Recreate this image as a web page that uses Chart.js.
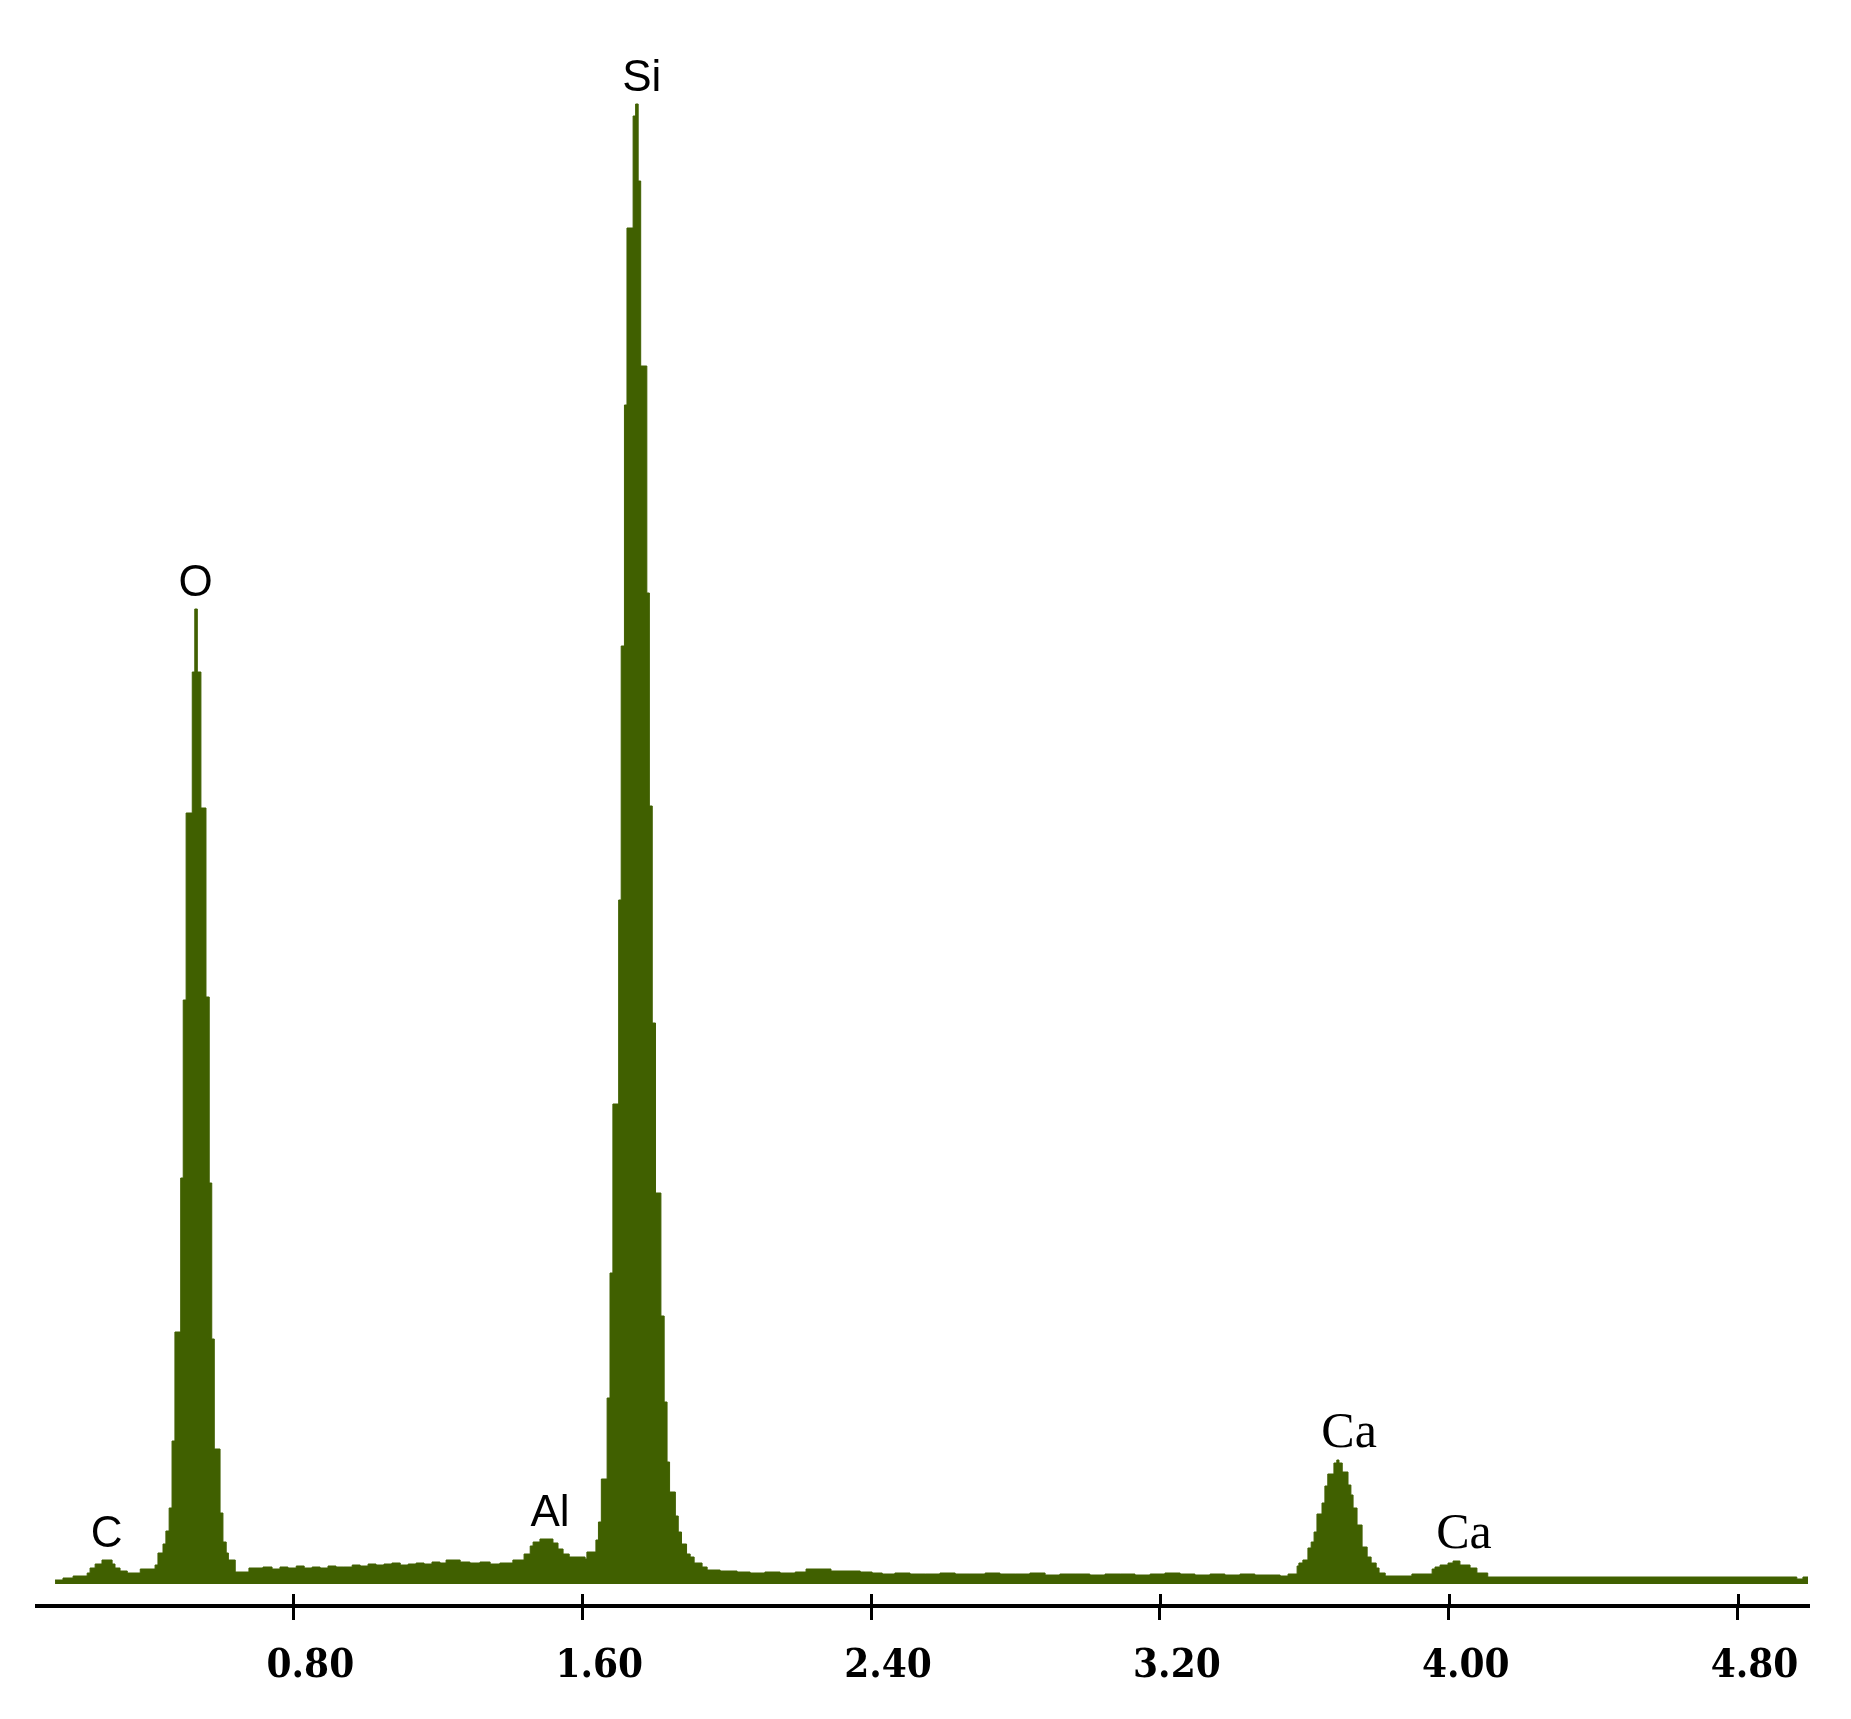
<!DOCTYPE html>
<html>
<head>
<meta charset="utf-8">
<script src="https://cdn.jsdelivr.net/npm/chart.js@4.4.0/dist/chart.umd.min.js"></script>
<style>
  body { margin: 0; background: #fff; }
  #wrap { width: 1851px; height: 1719px; }
</style>
</head>
<body>
<div id="wrap"><canvas id="spectrum" width="1851" height="1719"></canvas></div>
<script>
// spectrum channels (keV) and counts
var energy = [
  0.140, 0.162, 0.190, 0.229, 0.237, 0.251, 0.270, 0.298, 0.306, 0.320,
  0.340, 0.376, 0.417, 0.425, 0.439, 0.447, 0.456, 0.464, 0.472, 0.488,
  0.495, 0.503, 0.520, 0.527, 0.534, 0.544, 0.558, 0.567, 0.574, 0.581,
  0.597, 0.605, 0.614, 0.620, 0.639, 0.677, 0.716, 0.741, 0.763, 0.785,
  0.808, 0.830, 0.852, 0.874, 0.896, 0.918, 0.940, 0.963, 0.985, 1.007,
  1.029, 1.051, 1.073, 1.096, 1.118, 1.140, 1.162, 1.184, 1.206, 1.223,
  1.262, 1.289, 1.317, 1.345, 1.372, 1.408, 1.439, 1.456, 1.464, 1.483,
  1.519, 1.533, 1.547, 1.564, 1.608, 1.613, 1.638, 1.645, 1.653, 1.669,
  1.677, 1.685, 1.701, 1.708, 1.717, 1.724, 1.741, 1.748, 1.755, 1.762,
  1.779, 1.786, 1.794, 1.803, 1.818, 1.827, 1.835, 1.842, 1.858, 1.866,
  1.875, 1.889, 1.899, 1.910, 1.932, 1.946, 1.982, 2.029, 2.065, 2.106,
  2.148, 2.190, 2.220, 2.289, 2.370, 2.403, 2.431, 2.466, 2.508, 2.550,
  2.591, 2.633, 2.674, 2.716, 2.757, 2.799, 2.840, 2.882, 2.923, 2.965,
  3.006, 3.048, 3.090, 3.131, 3.173, 3.214, 3.256, 3.297, 3.339, 3.380,
  3.422, 3.463, 3.505, 3.533, 3.555, 3.580, 3.585, 3.596, 3.610, 3.619,
  3.627, 3.635, 3.649, 3.657, 3.665, 3.682, 3.690, 3.696, 3.705, 3.721,
  3.729, 3.735, 3.746, 3.760, 3.774, 3.785, 3.799, 3.807, 3.824, 3.898,
  3.954, 3.962, 3.976, 3.998, 4.012, 4.031, 4.059, 4.078, 4.108, 4.964,
  4.981, 4.995
];
var counts = [
  4, 6, 8, 11, 16, 20, 24, 20, 16, 13,
  11, 15, 19, 31, 40, 53, 76, 143, 252, 406,
  584, 771, 912, 975, 912, 776, 587, 401, 245, 135,
  71, 42, 31, 24, 12, 16, 17, 15, 17, 16,
  18, 16, 17, 16, 18, 17, 17, 19, 18, 20,
  19, 20, 21, 19, 20, 21, 20, 22, 21, 24,
  22, 21, 22, 20, 21, 24, 30, 38, 42, 45,
  41, 35, 30, 27, 25, 32, 44, 62, 105, 186,
  311, 480, 684, 938, 1179, 1356, 1468, 1480, 1403, 1218,
  991, 778, 561, 391, 268, 182, 122, 92, 68, 52,
  40, 30, 27, 21, 17, 14, 13, 12, 11, 12,
  11, 12, 15, 13, 12, 11, 10, 11, 10, 10,
  11, 10, 10, 11, 10, 10, 11, 9, 10, 10,
  9, 10, 10, 9, 10, 11, 10, 9, 10, 9,
  10, 9, 9, 8, 10, 18, 21, 24, 36, 42,
  52, 70, 81, 98, 110, 121, 124, 121, 112, 99,
  89, 76, 59, 37, 27, 21, 16, 11, 8, 10,
  15, 17, 19, 21, 23, 19, 16, 11, 7, 5,
  7, 7
];

var tickValues = [0.8, 1.6, 2.4, 3.2, 4.0, 4.8];

// element labels and where they sit (keV)
var peakNames = ['C', 'O', 'Si', 'Al', 'Ca', 'Ca'];
var peakEnergy = [0.283, 0.529, 1.765, 1.511, 3.724, 4.042];

var serifNames = ['Ca'];
var green = '#406000';

var points = energy.map(function (e, i) { return { x: e, y: counts[i] }; });

// small tick stubs above the axis line + element names over the peaks
var spectrumDecor = {
  id: 'spectrumDecor',
  afterDraw: function (chart) {
    var ctx = chart.ctx;
    var xs = chart.scales.x;
    var ys = chart.scales.y;
    var bottom = chart.chartArea.bottom;

    ctx.save();
    ctx.strokeStyle = '#000';
    ctx.lineWidth = 3;
    tickValues.forEach(function (v) {
      var px = Math.round(xs.getPixelForValue(v)) + 0.5;
      ctx.beginPath();
      ctx.moveTo(px, bottom - 12);
      ctx.lineTo(px, bottom);
      ctx.stroke();
    });

    ctx.fillStyle = '#000';
    ctx.textAlign = 'center';
    ctx.textBaseline = 'alphabetic';
    peakNames.forEach(function (name, i) {
      var e = peakEnergy[i];
      var top = 0;
      for (var k = 0; k < energy.length; k++) {
        if (Math.abs(energy[k] - e) < 0.04 && counts[k] > top) top = counts[k];
      }
      if (serifNames.indexOf(name) >= 0) {
        ctx.font = '50px "Liberation Serif"';
      } else {
        ctx.font = '44px "Liberation Sans"';
      }
      ctx.fillText(name, xs.getPixelForValue(e), ys.getPixelForValue(top) - 13);
    });
    ctx.restore();
  }
};

window.onload = function onload() {
  var cv = document.getElementById('spectrum');
  new Chart(cv, {
    type: 'line',
    data: {
      datasets: [{
        data: points,
        stepped: true,
        fill: 'origin',
        backgroundColor: green,
        borderColor: green,
        borderWidth: 1,
        pointRadius: 0,
        tension: 0
      }]
    },
    options: {
      responsive: false,
      animation: false,
      layout: { padding: { top: 60, left: 37, right: 43, bottom: 0 } },
      plugins: { legend: { display: false }, tooltip: { enabled: false } },
      scales: {
        x: {
          type: 'linear',
          min: 0.09,
          max: 4.995,
          afterBuildTicks: function (scale) {
            scale.ticks = tickValues.map(function (v) { return { value: v }; });
          },
          afterFit: function (scale) { scale.height = 113; },
          border: { display: true, color: '#000', width: 4 },
          grid: { display: true, drawOnChartArea: false, drawTicks: true, tickLength: 14, color: '#000', lineWidth: 3 },
          ticks: {
            autoSkip: false,
            maxRotation: 0,
            padding: 23,
            labelOffset: 17,
            color: '#000',
            font: { family: '"DejaVu Serif Condensed", "DejaVu Serif"', weight: 'bold', size: 40 },
            callback: function (v) { return Number(v).toFixed(2); }
          }
        },
        y: {
          display: false,
          min: -22,
          max: 1524
        }
      }
    },
    plugins: [spectrumDecor]
  });
};
</script>
</body>
</html>
